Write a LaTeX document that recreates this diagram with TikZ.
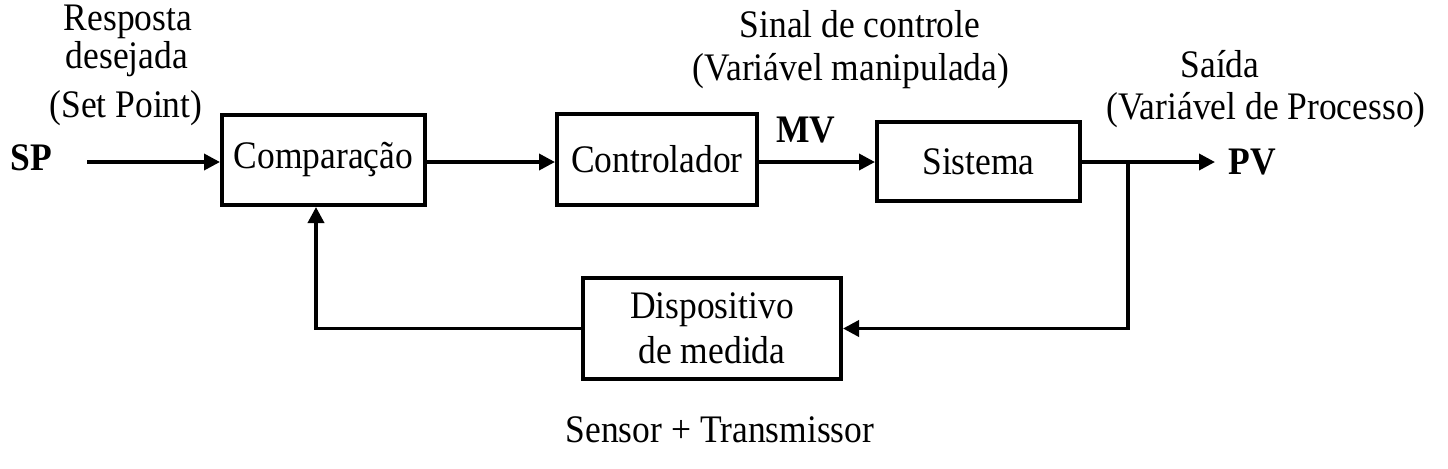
\documentclass[tikz,border=0pt]{standalone}
\usepackage{fontspec}
\setmainfont{Liberation Serif}[FakeStretch=0.91]
\usetikzlibrary{arrows.meta}
\begin{document}
\begin{tikzpicture}[x=0.5pt,y=-0.5pt,
  every node/.style={font=\fontsize{19.5}{22.5}\selectfont, inner sep=0pt},
  blk/.style={draw, line width=2pt, align=center},
  arr/.style={line width=1.8pt, -{Triangle[length=8pt,width=8pt]}},
  lbl/.style={anchor=base},
  boldlbl/.style={anchor=base, font=\fontsize{19.5}{22.5}\selectfont\bfseries}]
\useasboundingbox (0,0) rectangle (1448,468);
% blocks
\node[blk, minimum width=101.5pt, minimum height=45pt] (comp) at (323.5,160) {Comparação};
\node[blk, minimum width=100pt, minimum height=45.5pt] (ctrl) at (657,159.5) {Controlador};
\node[blk, minimum width=101.5pt, minimum height=39.5pt] (sys) at (978.5,161.5) {Sistema};
\node[blk, minimum width=129pt, minimum height=50.5pt] (disp) at (712,328.5) {Dispositivo\\de medida};
% labels
\node[lbl] (r1) at (128,30) {Resposta};
\node[lbl] (r2) at (127,68) {desejada};
\node[lbl] (r3) at (126,117) {(Set Point)};
\node[boldlbl] (sp) at (31,170) {SP};
\node[lbl] (s1) at (860,37) {Sinal de controle};
\node[lbl] (s2) at (851,80) {(Variável manipulada)};
\node[boldlbl] (mv) at (806,142) {MV};
\node[lbl] (o1) at (1220,77) {Saída};
\node[lbl] (o2) at (1266,119) {(Variável de Processo)};
\node[boldlbl] (pv) at (1252,174) {PV};
\node[lbl] (st) at (720,442) {Sensor + Transmissor};
% coordinates
\coordinate (sp0) at (87,162);
\coordinate (row) at (0,162);
\coordinate (pv0) at (1215,162);
\coordinate (br) at (1128,162);
\coordinate (fbx) at (316,0);
% connectors
\draw[arr] (sp0) -- (sp0 -| comp.west);
\draw[arr] (comp.east |- row) -- (ctrl.west |- row);
\draw[arr] (ctrl.east |- row) -- (sys.west |- row);
\draw[arr] (sys.east |- row) -- (pv0);
\draw[arr] (br) |- (disp.east);
\draw[arr] (disp.west) -| (comp.south -| fbx);
\end{tikzpicture}
\end{document}
